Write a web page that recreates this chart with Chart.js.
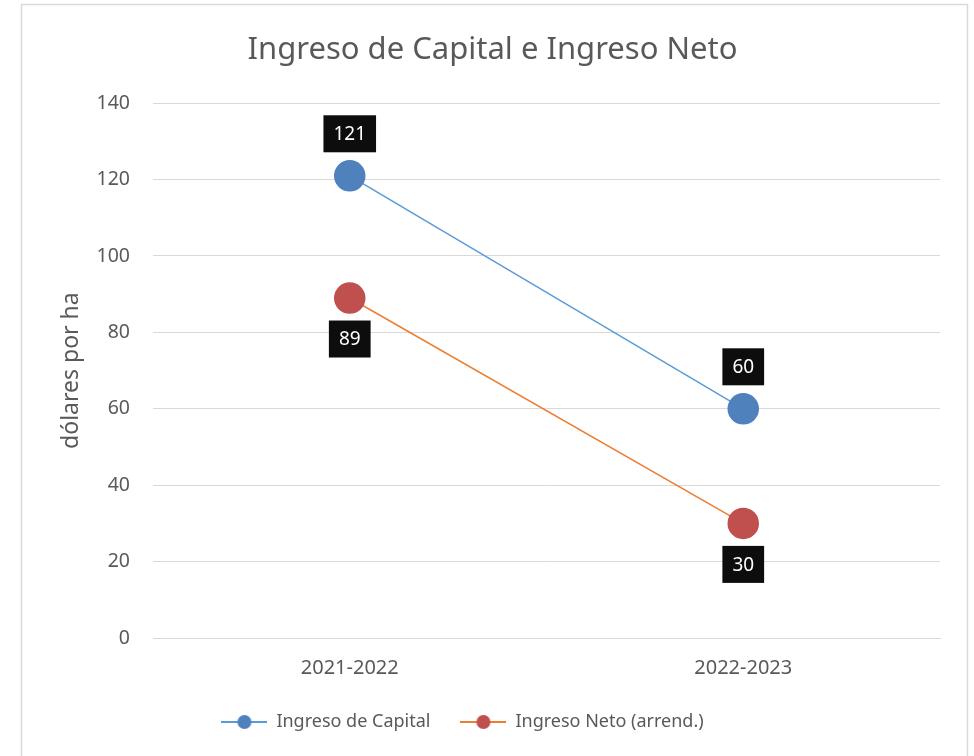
<!DOCTYPE html>
<html>
<head>
<meta charset="utf-8">
<script src="https://cdn.jsdelivr.net/npm/chart.js@4.4.1/dist/chart.umd.min.js"></script>
<style>
  html, body { margin: 0; padding: 0; background: #fff; }
  #wrap { width: 974px; height: 756px; }
</style>
</head>
<body>
<div id="wrap"><canvas id="ingresoChart" width="974" height="756"></canvas></div>
<script>
const categories = ['2021-2022', '2022-2023'];
const ingresoCapital = [121, 60];
const ingresoNeto = [89, 30];
const yMin = 0;
const yMax = 140;
const yStep = 20;

const FONT = "'Noto Sans', sans-serif";
const GREY = '#595959';

// small line + marker picture used as the legend symbol
const legendSymbol = function (lineColor, dotColor) {
    const c = document.createElement('canvas');
    c.width = 46;
    c.height = 16;
    const g = c.getContext('2d');
    g.strokeStyle = lineColor;
    g.lineWidth = 2;
    g.beginPath();
    g.moveTo(0, 8);
    g.lineTo(46, 8);
    g.stroke();
    g.fillStyle = dotColor;
    g.beginPath();
    g.arc(23, 8, 7, 0, Math.PI * 2);
    g.fill();
    return c;
};

const frame = {
    id: 'frame',
    beforeDraw(chart) {
        const ctx = chart.ctx;
        ctx.save();
        ctx.fillStyle = '#fff';
        ctx.fillRect(0, 0, chart.width, chart.height);
        ctx.strokeStyle = '#D9D9D9';
        ctx.lineWidth = 1.5;
        ctx.strokeRect(21.5, 4.5, 946, 780);
        ctx.restore();
    },
    // title a bit right of the middle, legend a bit left
    afterLayout(chart) {
        if (chart.titleBlock) {
            chart.titleBlock.left += 12;
            chart.titleBlock.right += 12;
        }
        if (chart.legend) {
            chart.legend.left -= 18;
            chart.legend.right -= 18;
        }
    }
};

// black boxes with the value, above the first series and below the second
const valueBoxes = {
    id: 'valueBoxes',
    afterDatasetsDraw(chart) {
        const ctx = chart.ctx;
        ctx.save();
        ctx.font = "19px " + FONT;
        ctx.textAlign = 'center';
        ctx.textBaseline = 'middle';
        chart.data.datasets.forEach((ds, i) => {
            const meta = chart.getDatasetMeta(i);
            meta.data.forEach((pt, j) => {
                const txt = String(ds.data[j]);
                const w = ctx.measureText(txt).width + 20;
                const h = 37;
                const cy = i === 0 ? pt.y - 42 : pt.y + 41;
                ctx.fillStyle = '#0D0D0D';
                ctx.fillRect(pt.x - w / 2, cy - h / 2, w, h);
                ctx.fillStyle = '#fff';
                ctx.fillText(txt, pt.x, cy + 1);
            });
        });
        ctx.restore();
    }
};

const data = {
    labels: categories,
    datasets: [{
        label: 'Ingreso de Capital',
        data: ingresoCapital,
        borderColor: '#5B9BD5',
        backgroundColor: '#4F81BD',
        pointBackgroundColor: '#4F81BD',
        pointBorderColor: '#4F81BD',
        borderWidth: 1.5,
        pointRadius: 15,
        pointHoverRadius: 15,
        legendDot: legendSymbol('#5B9BD5', '#4F81BD')
    }, {
        label: 'Ingreso Neto (arrend.)',
        data: ingresoNeto,
        borderColor: '#ED7D31',
        backgroundColor: '#C0504D',
        pointBackgroundColor: '#C0504D',
        pointBorderColor: '#C0504D',
        borderWidth: 1.5,
        pointRadius: 15,
        pointHoverRadius: 15,
        legendDot: legendSymbol('#ED7D31', '#C0504D')
    }]
};

const config = {
    type: 'line',
    data: data,
    plugins: [frame, valueBoxes],
    options: {
        responsive: false,
        animation: false,
        layout: { padding: { left: 21, right: 34, top: 0, bottom: 15 } },
        plugins: {
            title: {
                display: true,
                text: 'Ingreso de Capital e Ingreso Neto',
                color: GREY,
                font: { family: FONT, size: 31, weight: 'normal' },
                padding: { top: 32, bottom: 34 }
            },
            legend: {
                position: 'bottom',
                labels: {
                    usePointStyle: true,
                    pointStyleWidth: 46,
                    padding: 30,
                    color: GREY,
                    font: { family: FONT, size: 18 },
                    generateLabels(chart) {
                        return chart.data.datasets.map((ds, i) => ({
                            text: ds.label,
                            pointStyle: ds.legendDot,
                            fontColor: GREY,
                            lineWidth: 0,
                            hidden: false,
                            datasetIndex: i
                        }));
                    }
                }
            },
            tooltip: { enabled: false }
        },
        scales: {
            x: {
                offset: true,
                grid: { display: false, drawTicks: false },
                border: { color: '#D9D9D9', width: 1 },
                ticks: { color: GREY, font: { family: FONT, size: 20 }, padding: 18 },
                afterFit(scale) { scale.height = 45; }
            },
            y: {
                min: yMin,
                max: yMax,
                grid: { color: '#D9D9D9', lineWidth: 1, drawTicks: false },
                border: { display: false },
                ticks: { stepSize: yStep, color: GREY, font: { family: FONT, size: 19.5 }, padding: 23 },
                title: {
                    display: true,
                    text: 'dólares por ha',
                    color: GREY,
                    font: { family: FONT, size: 23 },
                    padding: { top: 37, bottom: 0 }
                },
                afterFit(scale) { scale.width = 132; }
            }
        }
    }
};

const ingresoChart = new Chart(document.getElementById('ingresoChart'), config);
</script>
</body>
</html>
